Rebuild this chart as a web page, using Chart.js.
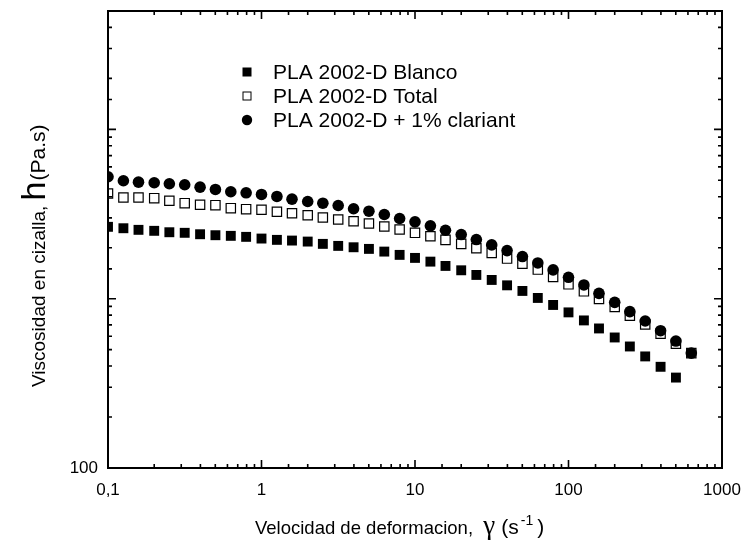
<!DOCTYPE html>
<html>
<head>
<meta charset="utf-8">
<script src="https://cdn.jsdelivr.net/npm/chart.js@4.4.1/dist/chart.umd.min.js"></script>
<style>
  html, body { margin: 0; padding: 0; background: #fff; }
</style>
</head>
<body>
<canvas id="viscosity-chart" width="741" height="548"></canvas>
<script>
// ------------------ DATA -------------------//
// shear rate (s^-1), 10 points per decade
const shearRate = [0.1, 0.126, 0.158, 0.2, 0.251, 0.316, 0.398, 0.501, 0.631, 0.794,
    1, 1.26, 1.58, 2, 2.51, 3.16, 3.98, 5.01, 6.31, 7.94,
    10, 12.6, 15.8, 20, 25.1, 31.6, 39.8, 50.1, 63.1, 79.4,
    100, 126, 158, 200, 251, 316, 398, 501, 631];

// viscosity (Pa.s)
const blanco = [2657, 2606, 2550, 2516, 2468, 2449, 2402, 2370, 2350, 2318,
    2265, 2225, 2204, 2174, 2107, 2050, 2012, 1968, 1897, 1814,
    1741, 1655, 1561, 1471, 1381, 1290, 1199, 1111, 1010, 918,
    830, 744, 667, 590, 522, 456, 396, 342];
const total = [4181, 3960, 3960, 3922, 3786, 3664, 3585, 3566, 3423, 3377,
    3349, 3259, 3197, 3111, 3015, 2934, 2867, 2779, 2667, 2560,
    2449, 2337, 2225, 2107, 1984, 1864, 1725, 1611, 1485, 1344,
    1215, 1105, 996, 893, 793, 705, 621, 542, 477];
const clariant = [5250, 4971, 4878, 4838, 4773, 4708, 4557, 4416, 4280, 4221,
    4125, 4014, 3870, 3750, 3664, 3551, 3396, 3286, 3141, 2975,
    2843, 2693, 2536, 2391, 2234, 2078, 1923, 1773, 1626, 1479,
    1337, 1205, 1075, 951, 838, 738, 647, 562, 477];

const seriesLabels = ["PLA 2002-D Blanco", "PLA 2002-D Total", "PLA 2002-D + 1% clariant"];

const xTickValues = [0.1, 1, 10, 100, 1000];
const xTickText = ["0,1", "1", "10", "100", "1000"];
const yTickValues = [100];
const yTickText = ["100"];

const FONT = "'Liberation Sans', Arial, sans-serif";

function toPoints(values) {
    return values.map((v, i) => ({ x: shearRate[i], y: v }));
}
function sameValue(a, b) {
    return Math.abs(Math.log10(a) - Math.log10(b)) < 1e-6;
}
function isDecade(v) {
    const l = Math.log10(v);
    return Math.abs(l - Math.round(l)) < 1e-6;
}
function labelFor(values, texts) {
    return function (value) {
        const i = values.findIndex(t => sameValue(t, value));
        return i >= 0 ? texts[i] : "";
    };
}

// ------------------ FRAME, INWARD TICKS, TITLES, LEGEND -------------------//
function drawRuns(ctx, runs, x, y) {
    // draws text pieces one after another along the baseline
    runs.forEach(r => {
        ctx.font = r.font;
        ctx.fillText(r.text, x, y + (r.dy || 0));
        x += ctx.measureText(r.text).width + (r.gap || 0);
    });
}

const decorations = {
    id: 'decorations',
    afterDatasetsDraw(chart) {
        const { ctx, chartArea: a, scales: { x, y } } = chart;
        ctx.save();
        ctx.strokeStyle = '#000';
        ctx.lineWidth = 1.6;
        ctx.beginPath();
        x.ticks.forEach(t => {
            const px = x.getPixelForValue(t.value);
            if (px <= a.left + 1 || px >= a.right - 1) return;
            const len = isDecade(t.value) ? 8 : 4;
            ctx.moveTo(px, a.bottom); ctx.lineTo(px, a.bottom - len);
            ctx.moveTo(px, a.top); ctx.lineTo(px, a.top + len);
        });
        y.ticks.forEach(t => {
            const py = y.getPixelForValue(t.value);
            if (py <= a.top + 1 || py >= a.bottom - 1) return;
            const len = isDecade(t.value) ? 8 : 4;
            ctx.moveTo(a.left, py); ctx.lineTo(a.left + len, py);
            ctx.moveTo(a.right, py); ctx.lineTo(a.right - len, py);
        });
        ctx.stroke();
        ctx.lineWidth = 2;
        ctx.strokeRect(a.left, a.top, a.right - a.left, a.bottom - a.top);

        ctx.fillStyle = '#000';
        ctx.textBaseline = 'alphabetic';
        ctx.textAlign = 'left';

        // x title
        drawRuns(ctx, [
            { text: "Velocidad de deformacion,  ", font: "18.5px " + FONT },
            { text: "γ", font: "27px 'Liberation Serif', serif", gap: 6 },
            { text: "(s", font: "21px " + FONT, gap: 2 },
            { text: "-1", font: "14px " + FONT, dy: -9, gap: 4 },
            { text: ")", font: "21px " + FONT }
        ], 255, 534);

        // y title (rotated)
        ctx.save();
        ctx.translate(45, 387);
        ctx.rotate(-Math.PI / 2);
        drawRuns(ctx, [
            { text: "Viscosidad en cizalla, ", font: "19px " + FONT },
            { text: "h", font: "34px " + FONT, gap: 1 },
            { text: "(Pa.s)", font: "21px " + FONT }
        ], 0, 0);
        ctx.restore();

        // legend
        const legendX = 247, legendY = [72, 96, 120], textX = 273;
        chart.data.datasets.forEach((ds, i) => {
            const cy = legendY[i];
            ctx.fillStyle = ds.backgroundColor;
            ctx.strokeStyle = ds.borderColor;
            ctx.lineWidth = 1;
            if (ds.pointStyle === 'circle') {
                ctx.beginPath();
                ctx.arc(legendX, cy, 5.2, 0, Math.PI * 2);
                ctx.fill();
            } else if (ds.borderWidth > 0) {
                ctx.fillRect(legendX - 4, cy - 4, 8, 8);
                ctx.strokeRect(legendX - 4, cy - 4, 8, 8);
            } else {
                ctx.fillRect(legendX - 4.5, cy - 4.5, 9, 9);
            }
            ctx.fillStyle = '#000';
            ctx.font = "21px " + FONT;
            ctx.textBaseline = 'middle';
            ctx.fillText(ds.label, textX, cy + 1);
        });
        ctx.restore();
    }
};

// ------------------ CHART -------------------//
const canvas = document.getElementById('viscosity-chart');
const viscosityChart = new Chart(canvas, {
    type: 'scatter',
    data: {
        datasets: [{
            label: seriesLabels[0],
            data: toPoints(blanco),
            pointStyle: 'rect',
            pointRadius: 7,
            backgroundColor: '#000',
            borderColor: '#000',
            borderWidth: 0,
            clip: 0,
            order: 2
        }, {
            label: seriesLabels[1],
            data: toPoints(total),
            pointStyle: 'rect',
            pointRadius: 6.6,
            backgroundColor: '#fff',
            borderColor: '#000',
            borderWidth: 1.2,
            clip: 0,
            order: 1
        }, {
            label: seriesLabels[2],
            data: toPoints(clariant),
            pointStyle: 'circle',
            pointRadius: 5.8,
            backgroundColor: '#000',
            borderColor: '#000',
            borderWidth: 0,
            clip: 0,
            order: 0
        }]
    },
    options: {
        responsive: false,
        devicePixelRatio: 1,
        animation: false,
        layout: { padding: { top: 11, right: 19, left: 0, bottom: 0 } },
        plugins: {
            legend: { display: false },
            tooltip: { enabled: false }
        },
        scales: {
            x: {
                type: 'logarithmic',
                min: 0.1,
                max: 1000,
                grid: { display: false, drawTicks: false },
                border: { display: false },
                ticks: {
                    autoSkip: false,
                    maxRotation: 0,
                    color: '#000',
                    padding: 12,
                    font: { family: FONT, size: 17 },
                    callback: labelFor(xTickValues, xTickText)
                },
                afterFit: scale => {
                    scale.height = 80;
                    scale.paddingLeft = 0;
                    scale.paddingRight = 0;
                }
            },
            y: {
                type: 'logarithmic',
                min: 100,
                max: 50000,
                grid: { display: false, drawTicks: false },
                border: { display: false },
                ticks: {
                    autoSkip: false,
                    color: '#000',
                    padding: 10,
                    font: { family: FONT, size: 17 },
                    callback: labelFor(yTickValues, yTickText)
                },
                afterFit: scale => {
                    scale.width = 108;
                    scale.paddingTop = 0;
                    scale.paddingBottom = 0;
                }
            }
        }
    },
    plugins: [decorations]
});
</script>
</body>
</html>
